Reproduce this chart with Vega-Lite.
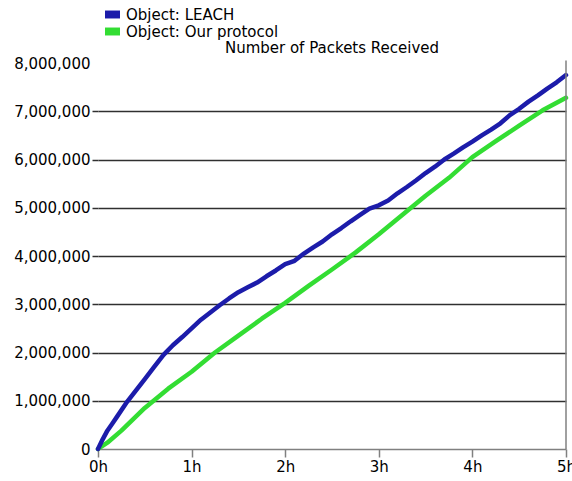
{
  "$schema": "https://vega.github.io/schema/vega-lite/v6.json",
  "width": 468,
  "height": 386,
  "autosize": "none",
  "padding": {"left": 98, "top": 63, "right": 6, "bottom": 32},
  "background": "white",
  "config": {"view": {"stroke": null}, "font": "DejaVu Sans"},
  "title": {"text": "Number of Packets Received", "fontSize": 15, "fontWeight": "normal", "font": "DejaVu Sans", "color": "black", "anchor": "middle", "offset": -49},
  "layer": [
    {
      "data": {"values": [
        {"s": "Object: Our protocol", "t": 0, "v": 0},
        {"s": "Object: Our protocol", "t": 0.1, "v": 130000},
        {"s": "Object: Our protocol", "t": 0.25, "v": 380000},
        {"s": "Object: Our protocol", "t": 0.5, "v": 850000},
        {"s": "Object: Our protocol", "t": 0.75, "v": 1250000},
        {"s": "Object: Our protocol", "t": 1.0, "v": 1600000},
        {"s": "Object: Our protocol", "t": 1.25, "v": 2000000},
        {"s": "Object: Our protocol", "t": 1.5, "v": 2350000},
        {"s": "Object: Our protocol", "t": 1.75, "v": 2700000},
        {"s": "Object: Our protocol", "t": 2.0, "v": 3030000},
        {"s": "Object: Our protocol", "t": 2.25, "v": 3380000},
        {"s": "Object: Our protocol", "t": 2.5, "v": 3720000},
        {"s": "Object: Our protocol", "t": 2.75, "v": 4070000},
        {"s": "Object: Our protocol", "t": 3.0, "v": 4450000},
        {"s": "Object: Our protocol", "t": 3.25, "v": 4850000},
        {"s": "Object: Our protocol", "t": 3.5, "v": 5250000},
        {"s": "Object: Our protocol", "t": 3.75, "v": 5620000},
        {"s": "Object: Our protocol", "t": 4.0, "v": 6050000},
        {"s": "Object: Our protocol", "t": 4.25, "v": 6380000},
        {"s": "Object: Our protocol", "t": 4.5, "v": 6700000},
        {"s": "Object: Our protocol", "t": 4.75, "v": 7020000},
        {"s": "Object: Our protocol", "t": 5.0, "v": 7280000},
        {"s": "Object: LEACH", "t": 0, "v": 0},
        {"s": "Object: LEACH", "t": 0.05, "v": 200000},
        {"s": "Object: LEACH", "t": 0.1, "v": 380000},
        {"s": "Object: LEACH", "t": 0.15, "v": 520000},
        {"s": "Object: LEACH", "t": 0.2, "v": 660000},
        {"s": "Object: LEACH", "t": 0.3, "v": 950000},
        {"s": "Object: LEACH", "t": 0.4, "v": 1200000},
        {"s": "Object: LEACH", "t": 0.5, "v": 1450000},
        {"s": "Object: LEACH", "t": 0.6, "v": 1700000},
        {"s": "Object: LEACH", "t": 0.7, "v": 1950000},
        {"s": "Object: LEACH", "t": 0.8, "v": 2150000},
        {"s": "Object: LEACH", "t": 0.9, "v": 2320000},
        {"s": "Object: LEACH", "t": 1.0, "v": 2500000},
        {"s": "Object: LEACH", "t": 1.1, "v": 2680000},
        {"s": "Object: LEACH", "t": 1.2, "v": 2830000},
        {"s": "Object: LEACH", "t": 1.3, "v": 2980000},
        {"s": "Object: LEACH", "t": 1.4, "v": 3120000},
        {"s": "Object: LEACH", "t": 1.5, "v": 3250000},
        {"s": "Object: LEACH", "t": 1.6, "v": 3350000},
        {"s": "Object: LEACH", "t": 1.7, "v": 3450000},
        {"s": "Object: LEACH", "t": 1.8, "v": 3580000},
        {"s": "Object: LEACH", "t": 1.9, "v": 3700000},
        {"s": "Object: LEACH", "t": 2.0, "v": 3830000},
        {"s": "Object: LEACH", "t": 2.1, "v": 3900000},
        {"s": "Object: LEACH", "t": 2.2, "v": 4050000},
        {"s": "Object: LEACH", "t": 2.3, "v": 4180000},
        {"s": "Object: LEACH", "t": 2.4, "v": 4300000},
        {"s": "Object: LEACH", "t": 2.5, "v": 4450000},
        {"s": "Object: LEACH", "t": 2.6, "v": 4580000},
        {"s": "Object: LEACH", "t": 2.7, "v": 4720000},
        {"s": "Object: LEACH", "t": 2.8, "v": 4850000},
        {"s": "Object: LEACH", "t": 2.9, "v": 4980000},
        {"s": "Object: LEACH", "t": 3.0, "v": 5050000},
        {"s": "Object: LEACH", "t": 3.1, "v": 5150000},
        {"s": "Object: LEACH", "t": 3.2, "v": 5300000},
        {"s": "Object: LEACH", "t": 3.3, "v": 5430000},
        {"s": "Object: LEACH", "t": 3.4, "v": 5570000},
        {"s": "Object: LEACH", "t": 3.5, "v": 5720000},
        {"s": "Object: LEACH", "t": 3.6, "v": 5850000},
        {"s": "Object: LEACH", "t": 3.7, "v": 6000000},
        {"s": "Object: LEACH", "t": 3.8, "v": 6120000},
        {"s": "Object: LEACH", "t": 3.9, "v": 6250000},
        {"s": "Object: LEACH", "t": 4.0, "v": 6370000},
        {"s": "Object: LEACH", "t": 4.1, "v": 6500000},
        {"s": "Object: LEACH", "t": 4.2, "v": 6620000},
        {"s": "Object: LEACH", "t": 4.3, "v": 6750000},
        {"s": "Object: LEACH", "t": 4.4, "v": 6920000},
        {"s": "Object: LEACH", "t": 4.5, "v": 7050000},
        {"s": "Object: LEACH", "t": 4.6, "v": 7200000},
        {"s": "Object: LEACH", "t": 4.7, "v": 7330000},
        {"s": "Object: LEACH", "t": 4.8, "v": 7470000},
        {"s": "Object: LEACH", "t": 4.9, "v": 7600000},
        {"s": "Object: LEACH", "t": 5.0, "v": 7750000}
      ]},
      "mark": {"type": "line", "strokeWidth": 4.5, "strokeCap": "round", "strokeJoin": "round"},
      "encoding": {
        "x": {"field": "t", "type": "quantitative", "scale": {"domain": [0, 5], "nice": false},
          "axis": {"values": [0, 1, 2, 3, 4, 5], "labelExpr": "datum.value + 'h'", "title": null, "grid": false,
            "domainColor": "#808080", "domainWidth": 1.5, "tickColor": "#808080", "tickWidth": 1.5, "tickSize": 8,
            "labelFontSize": 15, "labelFont": "DejaVu Sans", "labelColor": "black", "labelPadding": 2, "labelFlush": false}},
        "y": {"field": "v", "type": "quantitative", "scale": {"domain": [0, 8000000], "nice": false},
          "axis": {"values": [0, 1000000, 2000000, 3000000, 4000000, 5000000, 6000000, 7000000, 8000000], "format": ",d", "title": null, "domain": false,
            "grid": true, "gridColor": "#303030", "gridWidth": 1.5,
            "gridOpacity": {"condition": {"test": "datum.value >= 8000000 || datum.value == 0", "value": 0}, "value": 1},
            "tickColor": "#303030", "tickWidth": 1.5, "tickSize": 6,
            "tickOpacity": {"condition": {"test": "datum.value >= 8000000 || datum.value == 0", "value": 0}, "value": 1},
            "labelFontSize": 15, "labelFont": "DejaVu Sans", "labelColor": "black", "labelPadding": 2}},
        "color": {"field": "s", "type": "nominal",
          "scale": {"domain": ["Object: LEACH", "Object: Our protocol"], "range": ["#1c1caa", "#33dd33"]},
          "legend": {"orient": "none", "legendX": 7, "legendY": -56, "title": null,
            "symbolType": "M-1,-0.53H1V0.53H-1Z", "symbolSize": 225, "symbolStrokeWidth": 0,
            "labelFontSize": 15, "labelFont": "DejaVu Sans", "labelColor": "black", "labelOffset": 6, "rowPadding": 1,
            "encode": {"symbols": {"update": {"fill": {"scale": "color", "field": "value"}, "fillOpacity": {"value": 1}, "strokeWidth": {"value": 0}}}}}}
      }
    },
    {
      "data": {"values": [{"t": 5, "v0": 0, "v1": 8050000}]},
      "mark": {"type": "rule", "color": "#808080", "strokeWidth": 1.5},
      "encoding": {
        "x": {"field": "t", "type": "quantitative"},
        "y": {"field": "v0", "type": "quantitative"},
        "y2": {"field": "v1"}
      }
    }
  ]
}
